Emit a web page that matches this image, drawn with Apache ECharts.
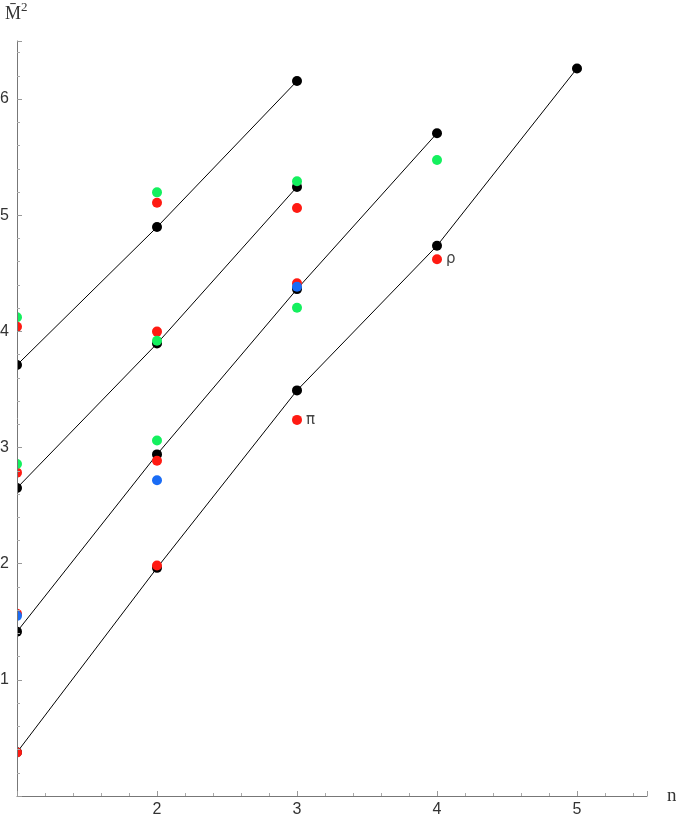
<!DOCTYPE html>
<html>
<head>
<meta charset="utf-8">
<script src="https://cdn.jsdelivr.net/npm/echarts@6/dist/echarts.min.js"></script>
<style>html,body{margin:0;padding:0;background:#fff;}#c{width:676px;height:817px;}</style>
</head>
<body>
<div id="c"></div>
<script>
// Trajectory (black) lines: level n and mass squared
const tower1N = [1, 2, 3];
const tower1M = [3.711, 4.898, 6.155];
const tower2N = [1, 2, 3];
const tower2M = [2.652, 3.895, 5.244];
const tower3N = [1, 2, 3, 4];
const tower3M = [1.415, 2.941, 4.364, 5.706];
const tower4N = [1, 2, 3, 4, 5];
const tower4M = [0.376, 1.964, 3.492, 4.737, 6.264];

// Red points
const redN = [1, 1, 1, 1, 2, 2, 2, 2, 3, 3, 3, 4];
const redM = [4.040, 2.784, 1.568, 0.374, 5.108, 3.998, 2.887, 1.984, 5.062, 4.414, 3.238, 4.621];
const redLabels = ['', '', '', '', '', '', '', '', '', '', 'π', 'ρ'];
// Green points
const greenN = [1, 1, 2, 2, 2, 3, 3, 4];
const greenM = [4.121, 2.859, 5.197, 3.920, 3.061, 5.292, 4.204, 5.475];
// Blue points
const blueN = [1, 2, 3];
const blueM = [1.551, 2.719, 4.385];

const xTicks = [2, 3, 4, 5];
const yTicks = [1, 2, 3, 4, 5, 6];

const pair = (xs, ys) => xs.map((x, i) => [x, ys[i]]);
const towers = [[tower1N, tower1M], [tower2N, tower2M], [tower3N, tower3M], [tower4N, tower4M]];

const series = [];
towers.forEach(([xs, ys]) => {
  series.push({
    type: 'line', data: pair(xs, ys), symbol: 'circle', symbolSize: 10,
    showAllSymbol: true, clip: false,
    lineStyle: { color: '#000', width: 1 }, itemStyle: { color: '#000', opacity: 1 },
    z: 2, silent: true, animation: false
  });
});
series.push({
  type: 'scatter', symbolSize: 10, itemStyle: { color: '#ff1a12', opacity: 1 }, z: 3, animation: false,
  data: redN.map((x, i) => ({
    value: [x, redM[i]],
    label: { show: redLabels[i] !== '', formatter: redLabels[i], position: 'right', distance: 4,
             fontFamily: 'DejaVu Sans', fontSize: 15, color: '#444' }
  }))
});
series.push({ type: 'scatter', symbolSize: 10, itemStyle: { color: '#14f05e', opacity: 1 }, z: 4, animation: false, data: pair(greenN, greenM) });
series.push({ type: 'scatter', symbolSize: 10, itemStyle: { color: '#1a6cf5', opacity: 1 }, z: 5, animation: false, data: pair(blueN, blueM) });

const axisCommon = {
  z: 10,
  axisLine: { show: true, lineStyle: { color: '#777', width: 1 } },
  axisTick: { show: true, inside: true, length: 5, lineStyle: { color: '#999' } },
  minorTick: { show: true, splitNumber: 5, length: 3, lineStyle: { color: '#aaa' } },
  splitLine: { show: false }
};

const chart = echarts.init(document.getElementById('c'), null, { renderer: 'canvas' });
chart.setOption({
  backgroundColor: '#fff',
  animation: false,
  grid: { left: 17, right: 29, top: 41, bottom: 21, containLabel: false, outerBoundsMode: 'none' },
  xAxis: Object.assign({
    type: 'value', min: 1, max: 5.5, interval: 1,
    name: 'n', nameLocation: 'end', nameGap: 20,
    nameTextStyle: { fontFamily: 'Liberation Serif', fontSize: 19, color: '#333', verticalAlign: 'middle' },
    axisLabel: { margin: 6, fontFamily: 'Liberation Sans', fontSize: 16, color: '#333',
      formatter: v => xTicks.includes(v) ? String(v) : '' }
  }, axisCommon),
  yAxis: Object.assign({
    type: 'value', min: 0, max: 6.5, interval: 1,
    axisLabel: { margin: 8, fontFamily: 'Liberation Sans', fontSize: 16, color: '#333',
      formatter: v => yTicks.includes(v) ? String(v) : '' }
  }, axisCommon),
  graphic: [
    { type: 'rect', z: 8, shape: { x: 0, y: 30, width: 17, height: 780 }, style: { fill: '#fff' }, silent: true },
    { type: 'text', left: 5, top: 5, z: 10, style: { text: 'M\u0304', font: '18px "Liberation Serif"', fill: '#333' } },
    { type: 'text', left: 21, top: 1, z: 10, style: { text: '2', font: '13px "Liberation Serif"', fill: '#333' } }
  ],
  series: series
});
</script>
</body>
</html>
